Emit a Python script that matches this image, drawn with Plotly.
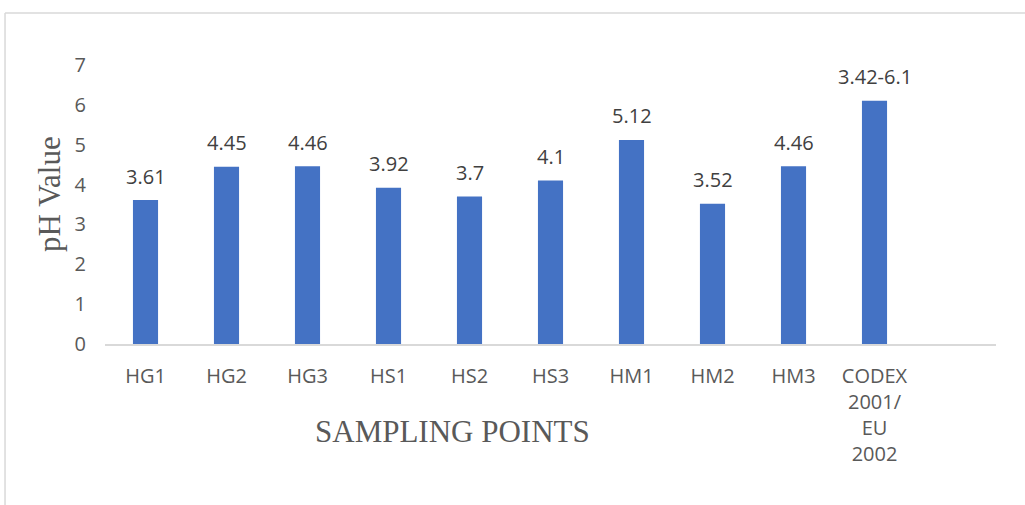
import plotly.graph_objects as go

# pH readings per sampling point, plus the CODEX/EU reference limit
categories = ["HG1", "HG2", "HG3", "HS1", "HS2", "HS3", "HM1", "HM2", "HM3", "CODEX"]
tick_labels = ["HG1", "HG2", "HG3", "HS1", "HS2", "HS3", "HM1", "HM2", "HM3",
               "CODEX<br>2001/<br>EU<br>2002"]
ph_values = [3.61, 4.45, 4.46, 3.92, 3.7, 4.1, 5.12, 3.52, 4.46, 6.1]
value_labels = ["3.61", "4.45", "4.46", "3.92", "3.7", "4.1", "5.12", "3.52", "4.46", "3.42-6.1"]
y_ticks = [0, 1, 2, 3, 4, 5, 6, 7]

BAR = "#4472C4"
SANS = "Open Sans"
SERIF = "Liberation Serif"

fig = go.Figure(
    go.Bar(
        x=categories,
        y=ph_values,
        marker=dict(color=BAR, line=dict(width=0)),
        width=0.31,
        hoverinfo="x+y",
    )
)

# value labels above each bar
for cat, val, lab in zip(categories, ph_values, value_labels):
    fig.add_annotation(
        x=cat, y=val, text=lab, showarrow=False,
        xanchor="center", yanchor="middle", yshift=24,
        font=dict(family=SANS, size=20, color="#404040"),
    )

# axis titles
fig.add_annotation(
    xref="paper", yref="paper", x=-0.0617, y=0.538,
    text="pH Value", textangle=-90, showarrow=False,
    xanchor="center", yanchor="middle",
    font=dict(family=SERIF, size=31, color="#595959"),
)
fig.add_annotation(
    xref="paper", yref="paper", x=0.3895, y=-0.312,
    text="SAMPLING POINTS", showarrow=False,
    xanchor="center", yanchor="middle",
    font=dict(family=SERIF, size=31, color="#595959"),
)

fig.update_layout(
    width=1025, height=505,
    margin=dict(l=105, r=29, t=65, b=161),
    paper_bgcolor="white", plot_bgcolor="white",
    showlegend=False,
    xaxis=dict(
        type="category",
        categoryorder="array", categoryarray=categories,
        tickmode="array", tickvals=categories, ticktext=tick_labels,
        range=[-0.5, 10.5],
        showgrid=False, zeroline=False,
        showline=True, linecolor="#d9d9d9", linewidth=2,
        ticks="", ticklabelstandoff=13,
        tickfont=dict(family=SANS, size=20, color="#595959"),
    ),
    yaxis=dict(
        range=[0, 7],
        tickmode="array", tickvals=y_ticks,
        showgrid=False, zeroline=False, showline=False,
        ticks="", ticklabelstandoff=18,
        tickfont=dict(family=SANS, size=20, color="#595959"),
    ),
    shapes=[
        # chart frame (top and left edges)
        dict(type="line", xref="paper", yref="paper",
             x0=-0.1122, x1=1.05, y0=1.186, y1=1.186,
             line=dict(color="#d9d9d9", width=1.5)),
        dict(type="line", xref="paper", yref="paper",
             x0=-0.1122, x1=-0.1122, y0=1.186, y1=-0.6,
             line=dict(color="#d9d9d9", width=1.5)),
    ],
)

fig.write_html("out.html")
